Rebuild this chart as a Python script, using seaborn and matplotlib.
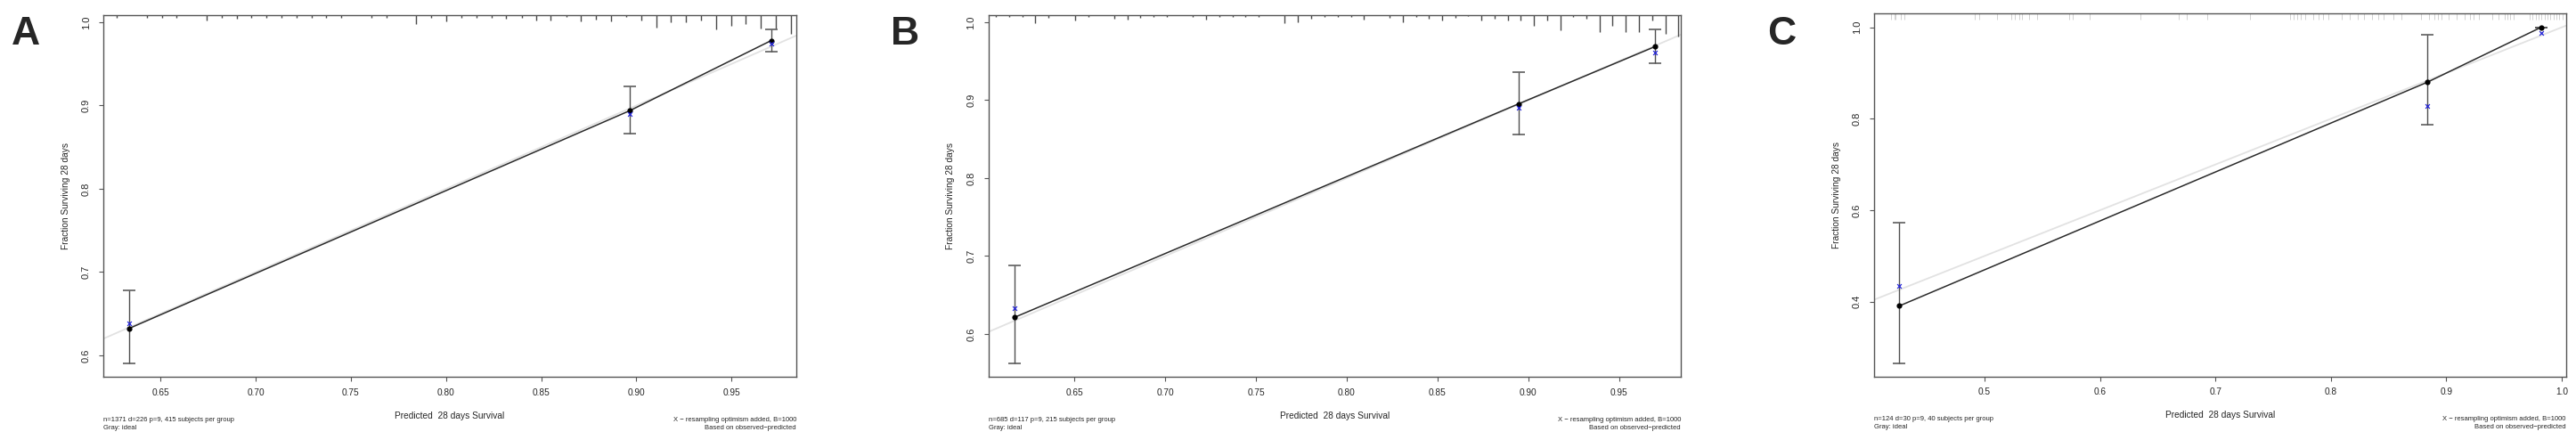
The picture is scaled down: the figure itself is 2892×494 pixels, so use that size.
import matplotlib
matplotlib.use('Agg')
import matplotlib.pyplot as plt
import matplotlib.transforms as mtransforms
import seaborn as sns
import numpy as np

# ---- data ----
panel_letters = ['A', 'B', 'C']

# predicted survival (group means), observed (black dots), optimism-corrected (blue x), CI
A_pred = [0.6336, 0.8965, 0.9708]
A_obs = [0.6324, 0.8938, 0.9780]
A_corr = [0.6389, 0.8900, 0.9740]
A_lo = [0.5900, 0.8660, 0.9650]
A_hi = [0.6784, 0.9226, 0.9918]

B_pred = [0.6170, 0.8946, 0.9699]
B_obs = [0.6213, 0.8952, 0.9688]
B_corr = [0.6328, 0.8907, 0.9611]
B_lo = [0.5619, 0.8564, 0.9470]
B_hi = [0.6876, 0.9356, 0.9909]

C_pred = [0.4262, 0.8836, 0.9821]
C_obs = [0.3908, 0.8800, 1.0000]
C_corr = [0.4337, 0.8277, 0.9880]
C_lo = [0.2660, 0.7880, 1.0000]
C_hi = [0.5728, 0.9844, 1.0000]

# distribution of predicted risk along the top (spike position, relative frequency)
A_rug_x = [0.6270, 0.6429, 0.6509, 0.6584, 0.6743, 0.6822, 0.6902, 0.6977, 0.7056,
           0.7136, 0.7216, 0.7295, 0.7370, 0.7450, 0.7609, 0.7688, 0.7843, 0.7922,
           0.8002, 0.8081, 0.8161, 0.8240, 0.8315, 0.8400, 0.8474, 0.8549, 0.8634,
           0.8708, 0.8788, 0.8868, 0.8947, 0.9027, 0.9106, 0.9181, 0.9261, 0.9340,
           0.9420, 0.9499, 0.9574, 0.9654, 0.9733, 0.9813]
A_rug_f = [2.7, 2.7, 2.7, 2.7, 5.3, 2.7, 4.0, 2.7, 2.7, 2.7, 2.7, 2.7, 2.7, 2.7,
           2.7, 2.7, 9.3, 2.7, 6.7, 2.7, 2.7, 2.7, 4.0, 2.7, 6.0, 6.0, 1.7, 6.7,
           5.0, 6.7, 1.7, 6.0, 13.7, 7.7, 7.7, 6.0, 16.0, 11.7, 9.3, 15.0, 15.0, 21.0]

B_rug_x = [0.6066, 0.6140, 0.6213, 0.6285, 0.6359, 0.6503, 0.6576, 0.6719, 0.6792,
           0.6862, 0.6936, 0.7010, 0.7153, 0.7225, 0.7298, 0.7371, 0.7443, 0.7515,
           0.7659, 0.7731, 0.7804, 0.7877, 0.7950, 0.8024, 0.8094, 0.8238, 0.8310,
           0.8382, 0.8454, 0.8526, 0.8598, 0.8669, 0.8743, 0.8815, 0.8887, 0.8959,
           0.9032, 0.9105, 0.9177, 0.9248, 0.9320, 0.9394, 0.9464, 0.9538, 0.9610,
           0.9683, 0.9755, 0.9827]
B_rug_f = [2.0, 2.0, 2.0, 8.7, 2.7, 6.0, 2.0, 4.0, 5.0, 3.0, 2.0, 2.0, 2.0, 4.7,
           2.0, 2.0, 2.0, 2.0, 8.7, 7.7, 4.0, 2.0, 2.0, 2.0, 4.3, 2.7, 7.7, 1.5,
           3.3, 5.3, 2.7, 1.0, 6.0, 3.3, 6.0, 6.0, 11.7, 6.0, 16.7, 2.0, 3.7, 18.7,
           11.7, 18.7, 18.7, 6.0, 21.0, 24.0]

C_rug_x = [0.4187, 0.4218, 0.4228, 0.4274, 0.4305, 0.4917, 0.4953, 0.5108, 0.5231,
           0.5260, 0.5298, 0.5324, 0.5388, 0.5457, 0.5735, 0.5761, 0.5910, 0.6352,
           0.6682, 0.6749, 0.6931, 0.7299, 0.7644, 0.7677, 0.7710, 0.7741, 0.7780,
           0.7845, 0.7896, 0.7934, 0.7978, 0.8096, 0.8166, 0.8230, 0.8289, 0.8359,
           0.8410, 0.8454, 0.8539, 0.8611, 0.8783, 0.8848, 0.8894, 0.8929, 0.8956,
           0.9022, 0.9092, 0.9156, 0.9208, 0.9234, 0.9285, 0.9400, 0.9452, 0.9504,
           0.9529, 0.9554, 0.9580, 0.9722, 0.9747, 0.9773, 0.9799, 0.9824, 0.9850,
           0.9876, 0.9901, 0.9927, 0.9953, 0.9979, 1.0004]
C_rug_f = [7.0] * len(C_rug_x)

A_note = 'n=1371 d=226 p=9, 415 subjects per group'
B_note = 'n=685 d=117 p=9, 215 subjects per group'
C_note = 'n=124 d=30 p=9, 40 subjects per group'

A_xticks = [0.65, 0.70, 0.75, 0.80, 0.85, 0.90, 0.95]
A_yticks = [0.6, 0.7, 0.8, 0.9, 1.0]
C_xticks = [0.5, 0.6, 0.7, 0.8, 0.9, 1.0]
C_yticks = [0.4, 0.6, 0.8, 1.0]

# ---- figure ----
W, H = 2892, 494
sns.set_style('ticks')
plt.rcParams['font.family'] = ['Liberation Sans', 'DejaVu Sans']
fig = plt.figure(figsize=(W / 100, H / 100), dpi=100)

# (left px, right px, top px, bottom px, xlim, ylim)
boxes = [
    (116, 894, 17.3, 423.3, (0.620, 0.984), (0.574, 1.0082)),
    (1109.5, 1887, 17.3, 423.3, (0.6026, 0.984), (0.5448, 1.0087)),
    (2104, 2880.7, 15.0, 422.7, (0.4043, 1.0036), (0.2364, 1.0305)),
]
letter_x = [12.5, 1000, 1984]

panels = [
    (A_pred, A_obs, A_corr, A_lo, A_hi, A_rug_x, A_rug_f, A_note, A_xticks, A_yticks, '{:.2f}'),
    (B_pred, B_obs, B_corr, B_lo, B_hi, B_rug_x, B_rug_f, B_note, A_xticks, A_yticks, '{:.2f}'),
    (C_pred, C_obs, C_corr, C_lo, C_hi, C_rug_x, C_rug_f, C_note, C_xticks, C_yticks, '{:.1f}'),
]

for i, (pred, obs, corr, lo, hi, rx, rf, note, xt, yt, xfmt) in enumerate(panels):
    l, r, t, b, xlim, ylim = boxes[i]
    ax = fig.add_axes([l / W, 1 - b / H, (r - l) / W, (b - t) / H])
    ax_h = b - t
    pred, obs, corr = np.array(pred), np.array(obs), np.array(corr)
    lo, hi = np.array(lo), np.array(hi)

    # gray ideal line, then the apparent calibration line (black)
    ax.plot(xlim, xlim, color='#e2e2e2', lw=1.3, zorder=2)
    sns.lineplot(x=pred, y=obs, color='#2a2a2a', lw=1.1, sort=False, ax=ax, zorder=3)
    ax.errorbar(pred, obs, yerr=[obs - lo, hi - obs], fmt='none', ecolor='#505050',
                elinewidth=1.0, capsize=5, capthick=1.1, zorder=5)
    sns.scatterplot(x=pred, y=obs, color='black', s=20, linewidth=0, ax=ax, zorder=6)
    sns.scatterplot(x=pred, y=corr, marker='x', color='#2424d8', s=12, linewidth=0.9,
                    ax=ax, zorder=7)

    # spikes hanging from the top edge
    trans = mtransforms.blended_transform_factory(ax.transData, ax.transAxes)
    rf = np.array(rf)
    if i < 2:
        ax.vlines(rx, 1 - rf / ax_h, 1, transform=trans, color='#4a4a4a', lw=1.0, zorder=2)
    else:
        ax.vlines(rx, 1 - rf / ax_h, 1, transform=trans, color='#cacaca', lw=0.6, zorder=2)

    ax.set_xlim(xlim)
    ax.set_ylim(ylim)
    ax.set_xticks(xt)
    ax.set_xticklabels([xfmt.format(v) for v in xt])
    ax.set_yticks(yt)
    ax.set_yticklabels(['{:.1f}'.format(v) for v in yt], rotation=90, va='center')
    ax.tick_params(axis='both', direction='out', length=3.6, width=0.8, color='#555555')
    ax.tick_params(axis='x', labelsize=7.3, pad=5.5)
    ax.tick_params(axis='y', labelsize=8, pad=6.5)
    for sp in ax.spines.values():
        sp.set_color('#555555')
        sp.set_linewidth(1.0)

    ax.set_xlabel('Predicted  28 days Survival', fontsize=7.3)
    ax.xaxis.label.set_va('center')
    ax.xaxis.set_label_coords(0.5, -43.4 / ax_h)
    ax.set_ylabel('Fraction Surviving 28 days', fontsize=7.3)
    ax.yaxis.label.set_va('center')
    ax.yaxis.set_label_coords(-42 / (r - l), 0.5)

    ax.text(0, -47.7 / ax_h, note, transform=ax.transAxes, fontsize=5.5, ha='left', va='center')
    ax.text(0, -56.7 / ax_h, 'Gray: ideal', transform=ax.transAxes, fontsize=5.5,
            ha='left', va='center')
    ax.text(1, -47.7 / ax_h, 'X \u2212 resampling optimism added, B=1000', transform=ax.transAxes,
            fontsize=5.5, ha='right', va='center')
    ax.text(1, -56.7 / ax_h, 'Based on observed\u2212predicted', transform=ax.transAxes,
            fontsize=5.5, ha='right', va='center')

    fig.text(letter_x[i] / W, 1 - 50 / H, panel_letters[i], fontsize=32, fontweight='bold',
             ha='left', va='baseline')

fig.savefig('out.png', dpi=100)
